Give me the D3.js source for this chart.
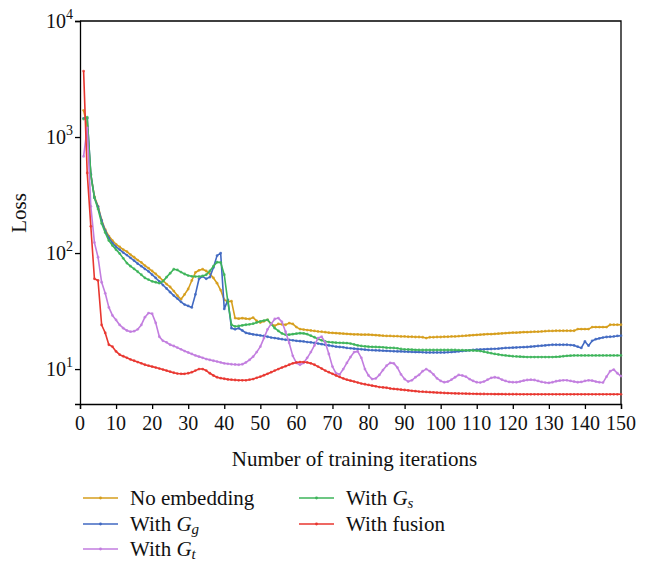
<!DOCTYPE html>
<html><head><meta charset="utf-8">
<script src="https://cdn.jsdelivr.net/npm/d3@7"></script>
<style>
body{margin:0;background:#fff;}
svg{display:block;font-family:"Liberation Serif","Times New Roman",serif;}
</style></head>
<body><svg id="chart" width="653" height="563"></svg>
<script>
const iterations = d3.range(1, 151);
const seriesNames = ["No embedding", "With G_g", "With G_t", "With G_s", "With fusion"];
const seriesColors = ["#d69e1c", "#4169c2", "#c27ddf", "#3db45a", "#e8362f"];
const xTicks = d3.range(0, 151, 10);
const yTicks = [10, 100, 1000, 10000];

const noEmbedding = [1700,1230,473,307,253,193,159,140,128,119,113,107,103,97,92,87,83,78,74,70,
66,62,58,54,51,47,43,40,44,49,58,68,71,72.6,70,66.4,61,55,48,39.5,
38,38.5,27.5,27.2,27.5,27.2,27,27.8,26,25.2,25.8,26.6,24.5,23.6,24.5,24.3,24.1,24.9,24.5,23,
22.1,21.9,21.7,21.5,21.3,21.1,21,20.8,20.6,20.5,20.4,20.3,20.2,20.1,20,19.9,19.9,19.8,19.8,19.8,
19.7,19.6,19.5,19.4,19.3,19.3,19.2,19.2,19.1,19.1,19,19,18.9,18.9,18.8,18.5,18.8,18.8,18.9,18.9,
19,19,19.1,19.1,19.2,19.3,19.4,19.5,19.6,19.7,19.8,19.9,20,20,20.1,20.2,20.3,20.4,20.5,20.6,
20.6,20.7,20.8,20.8,20.9,21,21,21.1,21.2,21.3,21.3,21.4,21.4,21.4,21.4,21.4,21.4,22.1,22.1,22.1,
22.1,23,23,23,23,23,24.1,24.1,24.1,24.1];

const withGg = [1450,1450,480,300,250,190,155,135,122,113,107,101,96,91,86,81,77,73,69.5,65,
61,57,53,49.5,46,43,40.5,38,36,35,34,44,60,63,60,62,75,95,100,33,
39.5,22.5,22,22.5,21.5,20.5,20.2,19.9,19.7,19.5,19.3,19,18.7,18.5,18.3,18.1,17.9,17.8,17.7,17.5,
17.4,17.3,17.1,17,16.8,16.6,16.4,16.2,16,15.8,15.6,15.5,15.4,15.2,15.1,15,14.9,14.8,14.7,14.6,
14.55,14.5,14.45,14.4,14.35,14.3,14.25,14.2,14.2,14.15,14.1,14.05,14,14,13.95,13.9,13.9,13.9,13.9,13.9,
13.9,13.95,14,14.1,14.2,14.3,14.4,14.5,14.6,14.7,14.75,14.8,14.85,14.9,14.95,15,15.1,15.2,15.25,15.3,
15.35,15.4,15.45,15.5,15.6,15.7,15.8,15.9,16,16.1,16.2,16.2,16.2,16.2,16.2,16.1,16,15.6,15.2,17.3,
15.9,17.5,18.1,18.4,18.7,18.9,19,19.1,19.3,19.4];

const withGt = [680,1200,253,123,92,56,45,34,29,26.5,24,22.5,21.5,21,21.2,22,24,28,30.4,30,
25,19,17.5,17,16.2,15.8,15.3,14.8,14.3,13.9,13.5,13.1,12.8,12.5,12.2,12,11.8,11.6,11.4,11.2,
11.1,11,10.95,10.9,11,11.4,12,12.8,14,15.6,18.5,22,24.5,27,27.5,25.5,21,16.8,13,11.3,
10.9,11.3,12.5,14,16,18.5,19,17,13.5,10.5,9.2,9,10,11.3,12.7,14,14.2,12.5,10,8.8,
8.2,8.3,8.9,9.8,10.7,11.3,11.2,10.3,9,8.2,7.8,8,8.5,8.9,9.6,10,9.6,9,8.3,7.9,
7.7,7.8,8.1,8.5,8.9,8.8,8.6,8.2,7.9,7.7,7.65,7.8,8.1,8.4,8.5,8.4,8.1,7.9,7.75,7.7,
7.7,7.8,7.95,8.05,8.1,8.05,7.9,7.75,7.65,7.6,7.7,7.85,7.95,8,8,7.9,7.8,7.7,7.75,7.9,
8,7.95,7.8,7.7,7.65,8.6,9.6,9.9,9.2,8.7];

const withGs = [1430,1480,470,300,240,180,150,128,116,107,99,90,82,77,73,69,65,61,59,57,
56,55,57,62,67,72.6,71.5,68.5,66,64,63,62.7,62.7,63.5,65,70,77,83.5,83,65,
38,24.1,23.3,23.5,23.8,24.1,24.3,24.6,25.2,25.8,26.2,26.6,24.5,22.5,21.3,20.3,19.8,19.8,20,20.2,
20.4,20.3,20,19.4,18.8,18.2,17.7,17.3,17.1,17,16.9,16.85,16.8,16.75,16.6,16.3,16,15.8,15.7,15.6,
15.55,15.5,15.45,15.4,15.3,15.25,15.2,15.1,14.9,14.8,14.75,14.7,14.65,14.6,14.6,14.6,14.6,14.6,14.6,14.6,
14.6,14.6,14.6,14.6,14.55,14.55,14.5,14.5,14.45,14.4,14.3,14.1,13.9,13.7,13.5,13.35,13.2,13.1,13,12.9,
12.85,12.8,12.75,12.7,12.7,12.7,12.7,12.7,12.7,12.7,12.7,12.75,12.8,12.9,13,13.05,13.1,13.1,13.1,13.1,
13.1,13.1,13.1,13.1,13.1,13.1,13.1,13.1,13.1,13.1];

const withFusion = [3700,490,170,60,58,24,20.5,16.2,15.6,14.2,13.3,12.9,12.5,12.1,11.8,11.5,11.2,10.9,10.7,10.5,
10.3,10.1,9.9,9.7,9.5,9.3,9.15,9.1,9.1,9.2,9.4,9.7,10,10,9.7,9.2,8.8,8.5,8.35,8.25,
8.15,8.1,8.05,8,8,8,8.1,8.2,8.4,8.6,8.85,9.1,9.4,9.7,10,10.3,10.6,10.9,11.2,11.4,
11.5,11.5,11.4,11.2,10.9,10.5,10.1,9.7,9.4,9.1,8.8,8.55,8.3,8.1,7.95,7.8,7.65,7.5,7.4,7.3,
7.2,7.1,7,6.95,6.9,6.8,6.75,6.7,6.65,6.6,6.55,6.5,6.45,6.4,6.38,6.35,6.32,6.3,6.27,6.25,
6.22,6.2,6.18,6.17,6.16,6.15,6.14,6.13,6.12,6.11,6.1,6.1,6.09,6.09,6.08,6.08,6.08,6.07,6.07,6.07,
6.07,6.06,6.06,6.06,6.06,6.06,6.06,6.06,6.06,6.06,6.06,6.06,6.06,6.06,6.06,6.06,6.06,6.06,6.06,6.06,
6.06,6.06,6.06,6.06,6.06,6.06,6.06,6.06,6.06,6.06];

const allSeries = [noEmbedding, withGg, withGt, withGs, withFusion];

const svg = d3.select("#chart");
const L = 80, R = 621, T = 21, B = 404;
const x = d3.scaleLinear().domain([0, 150]).range([L, R]);
const y = d3.scaleLog().domain([5, 10000]).range([B, T]);

// frame (top & right)
svg.append("path").attr("d", `M${L},${T}H${R}V${B}`).attr("fill","none").attr("stroke","#000").attr("stroke-width",1.3);

// x axis
const xMinor = d3.range(5, 150, 10);
const gx = svg.append("g").attr("transform", `translate(0,${B})`);
gx.call(d3.axisBottom(x).tickValues(xMinor).tickSize(3).tickFormat(""));
gx.call(d3.axisBottom(x).tickValues(xTicks).tickSize(5).tickFormat(""));
gx.selectAll("path,line").attr("stroke","#000").attr("stroke-width",1.3);
svg.append("g").selectAll("text").data(xTicks).join("text")
  .attr("x", d => x(d)).attr("y", 430).attr("text-anchor","middle")
  .attr("font-size", 20).attr("fill","#111").text(d => d);

// y axis
const yMinor = [];
[1, 10, 100, 1000].forEach(dec => d3.range(2, 10).forEach(m => { const v = m * dec; if (v > 5 && v < 10000) yMinor.push(v); }));
const gy = svg.append("g").attr("transform", `translate(${L},0)`);
gy.call(d3.axisLeft(y).tickValues(yMinor).tickSize(3).tickFormat(""));
gy.call(d3.axisLeft(y).tickValues(yTicks).tickSize(5).tickFormat(""));
gy.selectAll("path,line").attr("stroke","#000").attr("stroke-width",1.3);
const yl = svg.append("g").selectAll("text").data(yTicks).join("text")
  .attr("x", 73).attr("y", d => y(d) + 7).attr("text-anchor","end")
  .attr("font-size", 20).attr("fill","#111");
yl.append("tspan").text("10");
yl.append("tspan").attr("font-size", 14).attr("dy", -9).text(d => Math.round(Math.log10(d)));

// titles
svg.append("text").attr("x", (L + R) / 2 + 4).attr("y", 466).attr("text-anchor","middle")
  .attr("font-size", 21).attr("fill","#111").text("Number of training iterations");
svg.append("text").attr("transform", "translate(26,213) rotate(-90)").attr("text-anchor","middle")
  .attr("font-size", 21).attr("fill","#111").text("Loss");

// series
const line = d3.line().x((d, i) => x(iterations[i])).y(d => y(d));
const drawOrder = [0, 1, 3, 2, 4];
drawOrder.forEach(k => {
  const g = svg.append("g");
  g.append("path").datum(allSeries[k]).attr("d", line).attr("fill","none")
    .attr("stroke", seriesColors[k]).attr("stroke-width", 1.6).attr("stroke-linejoin","round");
  g.selectAll("circle").data(allSeries[k]).join("circle")
    .attr("cx", (d, i) => x(iterations[i])).attr("cy", d => y(d)).attr("r", 1.4)
    .attr("fill", seriesColors[k]).attr("opacity", 0.8);
});

// legend
const legendPos = [
  {lx: 83, ly: 498}, {lx: 83, ly: 524}, {lx: 83, ly: 549},
  {lx: 299, ly: 498}, {lx: 299, ly: 524}
];
seriesNames.forEach((name, k) => {
  const p = legendPos[k];
  const g = svg.append("g");
  g.append("line").attr("x1", p.lx).attr("x2", p.lx + 35).attr("y1", p.ly).attr("y2", p.ly)
    .attr("stroke", seriesColors[k]).attr("stroke-width", 1.6);
  g.append("circle").attr("cx", p.lx + 17.5).attr("cy", p.ly).attr("r", 1.4).attr("fill", seriesColors[k]);
  const t = g.append("text").attr("x", p.lx + 47).attr("y", p.ly + 7).attr("font-size", 21).attr("fill","#111");
  if (name.includes("_")) {
    const [base, sub] = name.split("_");
    const parts = base.split(" ");
    t.append("tspan").text(parts[0] + " ");
    t.append("tspan").attr("font-style","italic").text(parts[1]);
    t.append("tspan").attr("font-style","italic").attr("font-size", 15).attr("dy", 3).text(sub);
  } else {
    t.text(name);
  }
});
</script></body></html>
